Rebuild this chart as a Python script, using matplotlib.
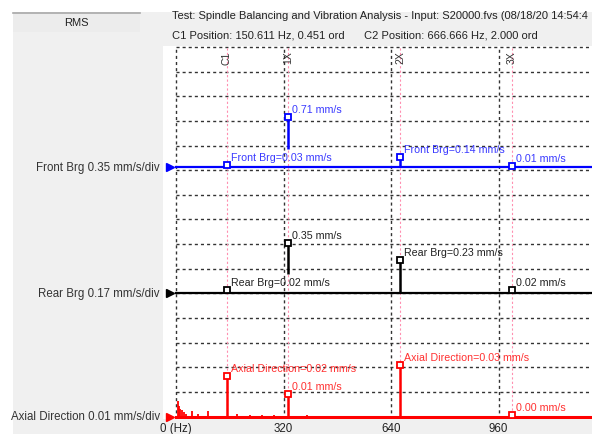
import matplotlib.pyplot as plt
from matplotlib.patches import Rectangle

plt.rcParams['font.family'] = ['Liberation Sans', 'DejaVu Sans']

W, H = 592, 435
FS = 8.3      # left labels / ticks
FS_HEAD = 8.0
FS_LBL = 7.7  # peak annotations

# cursor / order positions (Hz)
cursor_names = ['C1', '1X', '2X', '3X']
cursor_freqs = [150.611, 333.333, 666.666, 1000.0]

# amplitude of each channel at the cursors (mm/s)
front_vals = [0.03, 0.71, 0.14, 0.01]
rear_vals = [0.02, 0.35, 0.23, 0.02]
axial_vals = [0.022, 0.0125, 0.028, 0.001]

channels = ['Front Brg', 'Rear Brg', 'Axial Direction']
channel_vals = [front_vals, rear_vals, axial_vals]
scales = [0.35, 0.17, 0.0135]          # mm/s per division
baselines = [10.13, 5, 0]              # trace offset in divisions
line_colors = ['#0000ff', '#000000', '#ff0000']
text_colors = ['#3a3aff', '#222222', '#ff3030']

# low frequency noise on the axial channel
noise_freqs = [5, 9, 13, 18, 24, 30, 47, 65, 96, 182, 220, 256, 292, 389, 420, 473, 583]
noise_amps = [0.0086, 0.006, 0.004, 0.0034, 0.0027, 0.0016, 0.0032, 0.0011, 0.0032,
              0.0011, 0.0008, 0.0009, 0.0008, 0.0007, 0.0005, 0.0005, 0.0004]

xticks = [0, 320, 640, 960]
xtick_labels = ['0 (Hz)', '320', '640', '960']

fig = plt.figure(figsize=(W / 100, H / 100), dpi=100)

# gray window background + RMS box
fig.patches.append(Rectangle((13 / W, 0), 1, 1 - 13 / H, transform=fig.transFigure,
                             facecolor='#f0f0f0', edgecolor='none', zorder=-10))
fig.patches.append(Rectangle((13 / W, 1 - 33 / H), 127 / W, 20 / H, transform=fig.transFigure,
                             facecolor='#ececec', edgecolor='none', zorder=-9))
fig.lines.append(plt.Line2D([13 / W, 140 / W], [1 - 14 / H, 1 - 14 / H], transform=fig.transFigure,
                            color='#a8a8a8', lw=1.2, zorder=-8))
fig.text(76 / W, 1 - 23 / H, 'RMS', ha='center', va='center', fontsize=FS_HEAD, color='#222222')
fig.text(172 / W, 1 - 16 / H,
         'Test: Spindle Balancing and Vibration Analysis - Input: S20000.fvs (08/18/20 14:54:4',
         ha='left', va='center', fontsize=FS_HEAD, color='#222222')
fig.text(172 / W, 1 - 35 / H, 'C1 Position: 150.611 Hz, 0.451 ord',
         ha='left', va='center', fontsize=FS_HEAD, color='#222222')
fig.text(364 / W, 1 - 35 / H, 'C2 Position: 666.666 Hz, 2.000 ord',
         ha='left', va='center', fontsize=FS_HEAD, color='#222222')

# plot area: x=0 Hz at px 176, 320 Hz per 107.5 px; 15 divisions of 24.63 px
ax = fig.add_axes([163 / W, 15 / H, (W - 163) / W, (420 - 47) / H], zorder=2)
ax.set_xlim((163 - 176) / 107.5 * 320, (W - 176) / 107.5 * 320)
ax.set_ylim(-(420 - 417.5) / 24.63, (417.5 - 47) / 24.63)
ax.set_facecolor('white')
for s in ax.spines.values():
    s.set_visible(False)
ax.set_yticks([])
ax.set_xticks(xticks)
ax.set_xticklabels(xtick_labels, fontsize=FS, color='#222222')
ax.tick_params(axis='x', length=0, pad=2)

# dashed grid
grid_kw = dict(color='#333333', lw=1.0, linestyles=(0, (2.2, 2.2)), zorder=1)
ax.hlines(range(1, 16), 0, 1280, **grid_kw)
ax.vlines(xticks + [1280], -0.1, 15, **grid_kw)

# cursor lines and their labels
ax.vlines(cursor_freqs, -0.1, 15, color='#ff8fb0', lw=0.8, linestyles=(0, (2, 2)), zorder=1)
for name, f in zip(cursor_names, cursor_freqs):
    ax.text(f, 14.6, name, rotation=90, ha='center', va='center', fontsize=7.5, color='#333333')

# axial noise
ax.vlines(noise_freqs, 0, [a / scales[2] for a in noise_amps], color='#ff0000', lw=1.3, zorder=3)

# partial stems at 1X for front/rear (as drawn on the screen)
stem_gap = [[0, 0.36, 0, 0], [0, 0.39, 0, 0], [0, 0, 0, 0]]

for k in range(3):
    base = baselines[k]
    c = line_colors[k]
    ax.axhline(base, xmin=13 / 429, color=c, lw=2.2 if k == 2 else 1.6, zorder=4)
    ax.plot(-19, base, marker='>', ms=6, color=c, clip_on=False, zorder=5)
    ax.text(-3 / 429, base, f'{channels[k]} {scales[k]:.2f} mm/s/div',
            transform=ax.get_yaxis_transform(), ha='right', va='center',
            fontsize=FS, color='#333333', clip_on=False)
    for i, (f, v) in enumerate(zip(cursor_freqs, channel_vals[k])):
        top = base + v / scales[k]
        bottom = base + stem_gap[k][i] * (top - base)
        ax.plot([f, f], [bottom, top], color=c, lw=1.8, zorder=4, solid_capstyle='butt')
        ax.plot(f, top, marker='s', ms=4, mfc='white', mec=c, mew=1.3, zorder=6)
        label = f'{v:.2f} mm/s'
        if i in (0, 2):
            label = f'{channels[k]}={label}'
        ax.annotate(label, (f, top), xytext=(4, 8), textcoords='offset pixels',
                    ha='left', va='center', fontsize=FS_LBL, color=text_colors[k], zorder=7)

fig.savefig('out.png', dpi=100)
